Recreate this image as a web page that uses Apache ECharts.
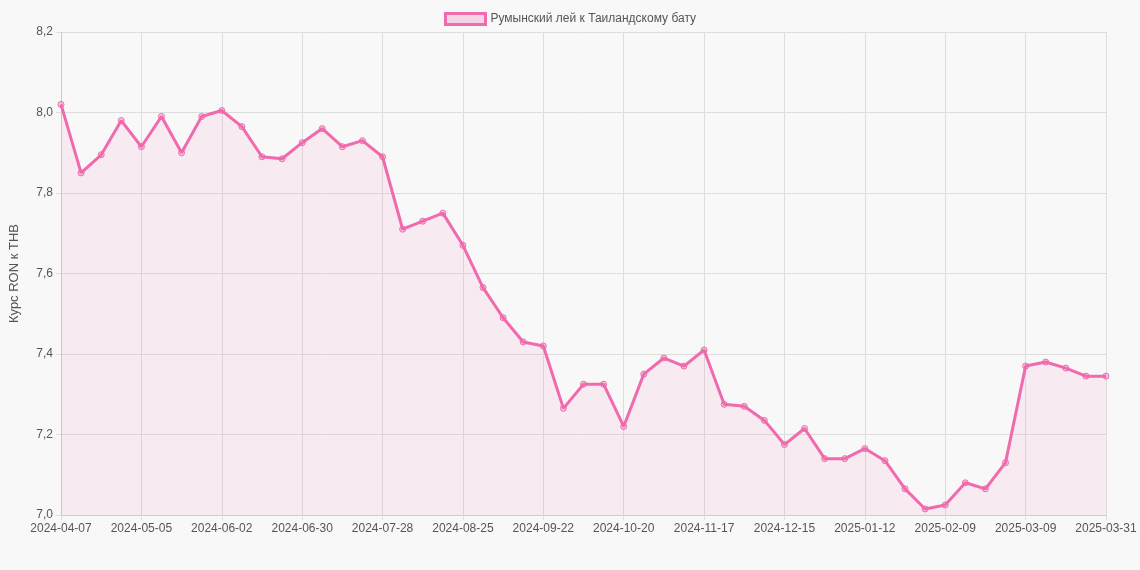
<!DOCTYPE html>
<html>
<head>
<meta charset="utf-8">
<script src="https://cdn.jsdelivr.net/npm/echarts@6/dist/echarts.min.js"></script>
<style>html,body{margin:0;background:#f8f8f8}#chart{width:1140px;height:570px}</style>
</head>
<body>
<div id="chart"></div>
<script>
// weekly rate, RON -> THB
var startDate = "2024-04-07";
var lastLabel = "2025-03-31";
var values = [8.02, 7.85, 7.895, 7.98, 7.915, 7.99, 7.90, 7.99, 8.005, 7.965,
    7.89, 7.885, 7.925, 7.96, 7.915, 7.93, 7.89, 7.71, 7.73, 7.75,
    7.67, 7.565, 7.49, 7.43, 7.42, 7.265, 7.325, 7.325, 7.22, 7.35,
    7.39, 7.37, 7.41, 7.275, 7.27, 7.235, 7.175, 7.215, 7.14, 7.14,
    7.165, 7.135, 7.065, 7.015, 7.025, 7.08, 7.065, 7.13, 7.37, 7.38,
    7.365, 7.345, 7.345];
var seriesName = "Румынский лей к Таиландскому бату";
var yTitle = "Курс RON к THB";

function pad(n) { return n < 10 ? "0" + n : "" + n; }
var categories = values.map(function (v, i) {
    if (i === values.length - 1) return lastLabel;
    var d = new Date(startDate + "T00:00:00Z");
    d.setUTCDate(d.getUTCDate() + 7 * i);
    return d.getUTCFullYear() + "-" + pad(d.getUTCMonth() + 1) + "-" + pad(d.getUTCDate());
});

var myChart = echarts.init(document.getElementById("chart"));
var option = {
    backgroundColor: "#f8f8f8",
    textStyle: { fontFamily: "Liberation Sans, Arial, sans-serif" },
    legend: {
        top: 7,
        icon: "rect",
        itemWidth: 40,
        itemHeight: 11,
        textStyle: { color: "#555", fontSize: 12 },
        data: [{ name: seriesName, itemStyle: { color: "rgba(240,98,170,0.25)", borderColor: "#f06aad", borderWidth: 3 } }]
    },
    grid: { left: 55, right: 34, top: 32, bottom: 55 },
    xAxis: {
        type: "category",
        boundaryGap: false,
        data: categories,
        axisLine: { lineStyle: { color: "#ccc" } },
        axisTick: { show: true, interval: function (i) { return i % 4 === 0; }, lineStyle: { color: "#ddd" } },
        axisLabel: { color: "#555", fontSize: 12, interval: function (i) { return i % 4 === 0; } },
        splitLine: { show: true, interval: function (i) { return i % 4 === 0; }, lineStyle: { color: "#ddd" } }
    },
    yAxis: {
        type: "value",
        min: 7.0,
        max: 8.2,
        interval: 0.2,
        name: yTitle,
        nameLocation: "middle",
        nameGap: 40,
        nameTextStyle: { color: "#555", fontSize: 13 },
        axisLine: { show: true, lineStyle: { color: "#ccc" } },
        axisTick: { show: true, lineStyle: { color: "#ddd" } },
        axisLabel: { color: "#555", fontSize: 12, formatter: function (v) { return v.toFixed(1).replace(".", ","); } },
        splitLine: { lineStyle: { color: "#ddd" } }
    },
    series: [{
        name: seriesName,
        type: "line",
        data: values,
        symbol: "circle",
        symbolSize: 6,
        itemStyle: { color: "rgba(240,106,173,0.3)", borderColor: "#f06aad", borderWidth: 1 },
        lineStyle: { color: "#f06aad", width: 3 },
        areaStyle: { color: "rgba(240,106,173,0.12)" }
    }]
};
myChart.setOption(option);
window.addEventListener("resize", function () { myChart.resize(); });
</script>
</body>
</html>
